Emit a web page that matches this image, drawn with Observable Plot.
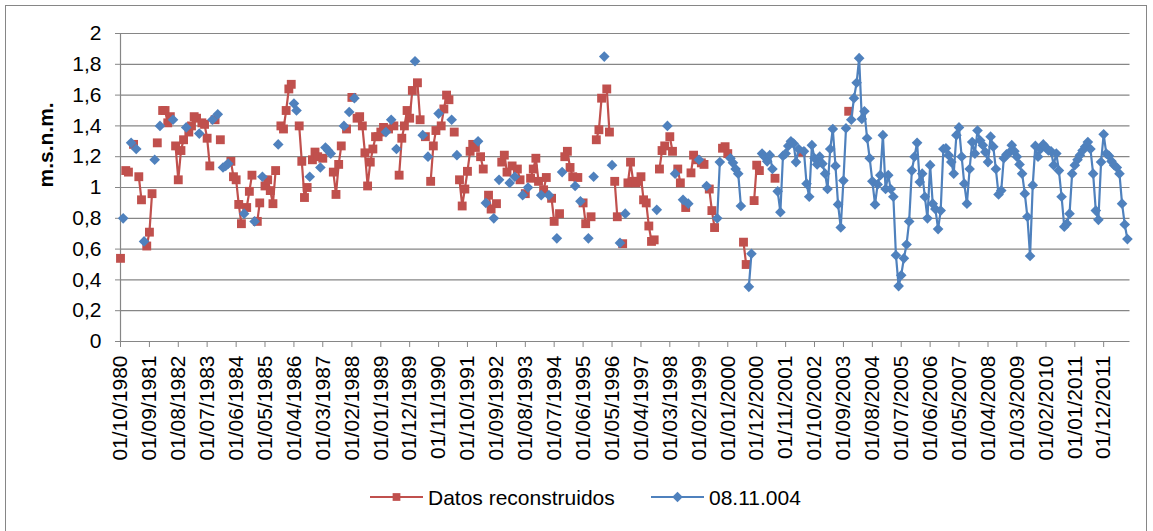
<!DOCTYPE html>
<html>
<head>
<meta charset="utf-8">
<script src="https://cdn.jsdelivr.net/npm/d3@7"></script>
<script src="https://cdn.jsdelivr.net/npm/@observablehq/plot@0.6"></script>
<style>
  html, body { margin: 0; padding: 0; background: #fff; }
  #wrap { position: relative; width: 1153px; height: 531px; overflow: hidden; font-family: "Liberation Sans", Arial, sans-serif; }
  #border { position: absolute; left: 5px; top: 5px; width: 1142px; height: 560px; border: 1px solid #868686; box-sizing: border-box; }
  #chart { position: absolute; left: 0; top: 0; }
  #legend { position: absolute; left: 0; top: 470px; width: 1153px; height: 61px; }
</style>
</head>
<body>
<div id="wrap">
  <div id="border"></div>
  <div id="chart"></div>
  <svg id="legend" width="1153" height="61"></svg>
</div>
<script>
const _ = null;
// Monthly series starting 01/10/1980 (one value per month, null = no data in that series)
const seriesStart = "01/10/1980";
const seriesNames = ["Datos reconstruidos", "08.11.004"];
const reconstruidos = [
  0.54,_,1.11,1.10,_,1.28,_,1.07,0.92,_,0.62,0.71,
  0.96,_,1.29,_,1.50,1.50,1.42,1.46,_,1.27,1.05,1.24,
  1.31,_,1.36,1.40,1.46,1.45,_,1.42,1.41,1.32,1.14,_,
  1.44,_,1.31,_,_,_,1.17,1.07,1.05,0.89,0.765,_,
  0.87,0.975,1.08,_,0.78,0.90,_,1.01,1.05,0.98,0.895,1.11,
  _,1.40,1.38,1.50,1.64,1.67,_,_,1.40,1.17,0.935,1.00,
  _,1.18,1.23,1.20,_,1.19,_,_,_,1.10,0.955,1.15,
  1.27,_,1.38,_,1.585,_,1.45,1.46,1.40,1.225,1.01,1.165,
  1.25,1.33,1.33,1.36,1.39,_,1.38,_,1.40,_,1.08,1.32,
  1.40,1.50,1.45,1.63,_,1.68,1.44,_,1.33,_,1.04,1.27,
  1.37,_,1.40,1.51,1.60,1.57,_,1.36,_,1.05,0.88,0.99,
  1.105,1.235,1.28,1.26,_,1.20,1.12,_,0.95,0.86,_,0.895,
  _,1.165,1.21,1.10,_,1.14,_,1.12,1.05,_,0.96,_,
  1.06,1.12,1.19,1.04,_,0.985,1.065,_,0.93,0.78,_,0.83,
  _,1.20,1.235,1.13,1.07,_,1.065,_,0.90,0.765,_,0.81,
  _,1.31,1.375,1.58,_,1.64,1.36,_,1.04,0.81,_,0.635,
  _,1.03,1.165,1.04,1.03,1.04,1.07,0.92,0.90,0.75,0.65,0.66,
  _,1.12,1.24,1.27,_,1.33,1.235,_,1.12,1.03,_,0.87,
  _,1.095,1.21,1.18,_,1.16,1.15,_,0.99,0.85,0.74,_,
  _,1.255,1.265,1.22,_,_,_,_,_,0.645,0.50,_,
  _,0.915,1.145,1.11,_,_,_,_,_,1.06,_,_,
  _,_,_,_,_,_,_,1.23,_,_,_,_,
  _,_,_,_,_,_,_,_,_,_,_,_,
  _,1.495,_,_,_,_,_,_,_,_,_,_,
  _,_,_,_,_,_,_,_,_,_,_,_,
  _,_,_,_,_,_,_,_,_,_,_,_,
  _,_,_,_,_,_,_,_,_,_,_,_,
  _,_,_,_,_,_,_,_,_,_,_,_,
  _,_,_,_,_,_,_,_,_,_,_,_,
  _,_,_,_,_,_,_,_,_,_,_,_,
  _,_,_,_,_,_,_,_,_,_,_,_,
  _,_,_,_,_,_,_,_,_,_,_,_
];
const estacion = [
  _,0.80,_,_,1.29,_,1.25,_,_,0.65,_,_,
  _,1.18,_,1.40,_,_,_,_,1.44,_,_,_,
  _,1.39,_,_,_,_,1.35,_,_,_,_,1.44,
  _,1.475,_,1.13,1.14,1.155,_,_,_,_,_,0.83,
  _,_,_,0.78,_,_,1.07,_,_,_,_,_,
  1.28,_,_,_,_,_,1.545,1.50,_,_,_,_,
  1.07,_,_,_,1.13,_,1.26,1.24,1.22,_,_,_,
  _,1.40,_,1.49,_,1.58,_,_,_,_,_,_,
  _,_,_,_,_,1.36,_,1.44,_,1.25,_,_,
  _,_,_,_,1.82,_,_,1.34,_,1.20,_,_,
  _,1.48,_,_,_,_,1.44,_,1.21,_,_,_,
  _,_,_,_,1.30,_,_,0.90,_,_,0.80,_,
  1.05,_,_,_,1.03,_,1.07,_,_,0.95,_,1.00,
  _,_,_,_,0.95,_,_,0.95,_,_,0.67,_,
  1.10,_,_,_,_,1.01,_,0.91,_,_,0.67,_,
  1.07,_,_,_,1.85,_,_,1.145,_,_,0.64,_,
  0.83,_,_,_,_,_,_,_,_,_,_,_,
  0.855,_,_,_,1.40,_,_,1.09,_,_,0.92,_,
  0.895,_,_,_,1.18,_,_,1.01,_,_,_,0.80,
  1.165,_,_,_,1.19,1.16,1.12,1.09,0.88,_,_,0.355,
  0.57,_,_,_,1.22,1.20,1.17,1.21,1.12,_,0.975,0.84,
  1.205,1.22,1.27,1.30,1.285,1.165,1.25,_,1.235,1.025,0.94,1.275,
  1.19,1.15,1.20,1.155,1.09,0.99,1.25,1.38,1.14,0.89,0.74,1.045,
  1.385,_,1.44,1.58,1.68,1.84,1.445,1.495,1.32,1.19,1.04,0.89,
  1.02,1.08,1.34,0.99,1.08,0.99,0.94,0.56,0.36,0.43,0.54,0.63,
  0.78,1.11,1.20,1.29,1.035,1.09,0.94,0.80,1.145,0.895,0.86,0.73,
  0.85,1.25,1.255,1.21,1.165,1.09,1.34,1.39,1.20,1.025,0.895,1.12,
  1.295,1.22,1.37,1.305,1.275,1.23,1.165,1.33,1.265,1.12,0.955,0.98,
  1.19,1.215,1.225,1.275,1.235,1.20,1.15,1.09,0.96,0.81,0.555,1.015,
  1.27,1.20,1.25,1.28,1.26,1.24,1.235,1.145,1.22,1.11,0.94,0.745,
  0.765,0.83,1.09,1.145,1.18,1.21,1.24,1.265,1.295,1.25,1.09,0.85,
  0.79,1.165,1.345,1.22,1.205,1.17,1.145,1.13,1.09,0.895,0.76,0.665
];
const xTickLabels = [
  "01/10/1980","01/09/1981","01/08/1982","01/07/1983","01/06/1984","01/05/1985","01/04/1986",
  "01/03/1987","01/02/1988","01/01/1989","01/12/1989","01/11/1990","01/10/1991","01/09/1992",
  "01/08/1993","01/07/1994","01/06/1995","01/05/1996","01/04/1997","01/03/1998","01/02/1999",
  "01/01/2000","01/12/2000","01/11/2001","01/10/2002","01/09/2003","01/08/2004","01/07/2005",
  "01/06/2006","01/05/2007","01/04/2008","01/03/2009","01/02/2010","01/01/2011","01/12/2011"
];
const xAxisEnd = "01/10/2012";
const yTicks = [0, 0.2, 0.4, 0.6, 0.8, 1, 1.2, 1.4, 1.6, 1.8, 2];
const yTitle = "m.s.n.m.";
const colors = ["#C0504D", "#4F81BD"];

const parse = d3.utcParse("%d/%m/%Y");
const fmt = d3.utcFormat("%d/%m/%Y");
const t0 = parse(seriesStart);
const dates = reconstruidos.map((v, i) => d3.utcMonth.offset(t0, i));
const data = dates.map((date, i) => ({date, rec: reconstruidos[i], obs: estacion[i]}));
const tickDates = xTickLabels.map(parse);
const yFmt = d => String(d).replace(".", ",");
const font = '"Liberation Sans", Arial, sans-serif';

const chart = Plot.plot({
  width: 1153,
  height: 470,
  marginLeft: 120,
  marginRight: 23.5,
  marginTop: 33,
  marginBottom: 129,
  x: {type: "utc", domain: [t0, parse(xAxisEnd)]},
  y: {domain: [0, 2]},
  style: {fontFamily: font, fontSize: "21px", color: "#000", background: "transparent", overflow: "visible"},
  marks: [
    Plot.ruleY(yTicks, {stroke: "#868686", strokeWidth: 1.2}),
    Plot.ruleX([t0], {stroke: "#868686", strokeWidth: 1.2}),
    Plot.axisY({ticks: yTicks, tickSize: 5, tickPadding: 14, tickFormat: yFmt, stroke: "#868686", fill: "#000", label: null, fontSize: 21}),
    Plot.axisX({ticks: tickDates, tickSize: 6, tickPadding: 8, tickRotate: -90, tickFormat: fmt, stroke: "#868686", fill: "#000", label: null, fontSize: 21}),
    Plot.text([yTitle], {frameAnchor: "left", dx: -74, rotate: -90, fontWeight: "bold", fontSize: 21, fill: "#000"}),
    Plot.line(data, {x: "date", y: "rec", stroke: colors[0], strokeWidth: 2.2}),
    Plot.dot(data, {x: "date", y: "rec", symbol: "square", r: 5, fill: colors[0], stroke: "none"}),
    Plot.line(data, {x: "date", y: "obs", stroke: colors[1], strokeWidth: 2.2}),
    Plot.dot(data, {x: "date", y: "obs", symbol: "diamond2", r: 4.8, fill: colors[1], stroke: "none"})
  ]
});
document.getElementById("chart").append(chart);

// Legend
const lg = d3.select("#legend");
const items = [
  {name: seriesNames[0], color: colors[0], x: 370, sym: d3.symbolSquare, size: 60},
  {name: seriesNames[1], color: colors[1], x: 651, sym: d3.symbolDiamond2, size: 70}
];
for (const it of items) {
  const g = lg.append("g").attr("transform", `translate(${it.x},27)`);
  g.append("line").attr("x1", 0).attr("x2", 53).attr("stroke", it.color).attr("stroke-width", 2.2);
  g.append("path").attr("transform", "translate(26.5,0)").attr("d", d3.symbol(it.sym, it.size)()).attr("fill", it.color);
  g.append("text").attr("x", 58).attr("y", 0).attr("dy", "0.36em")
    .attr("font-family", font).attr("font-size", 21).attr("fill", "#000").text(it.name);
}
</script>
</body>
</html>
